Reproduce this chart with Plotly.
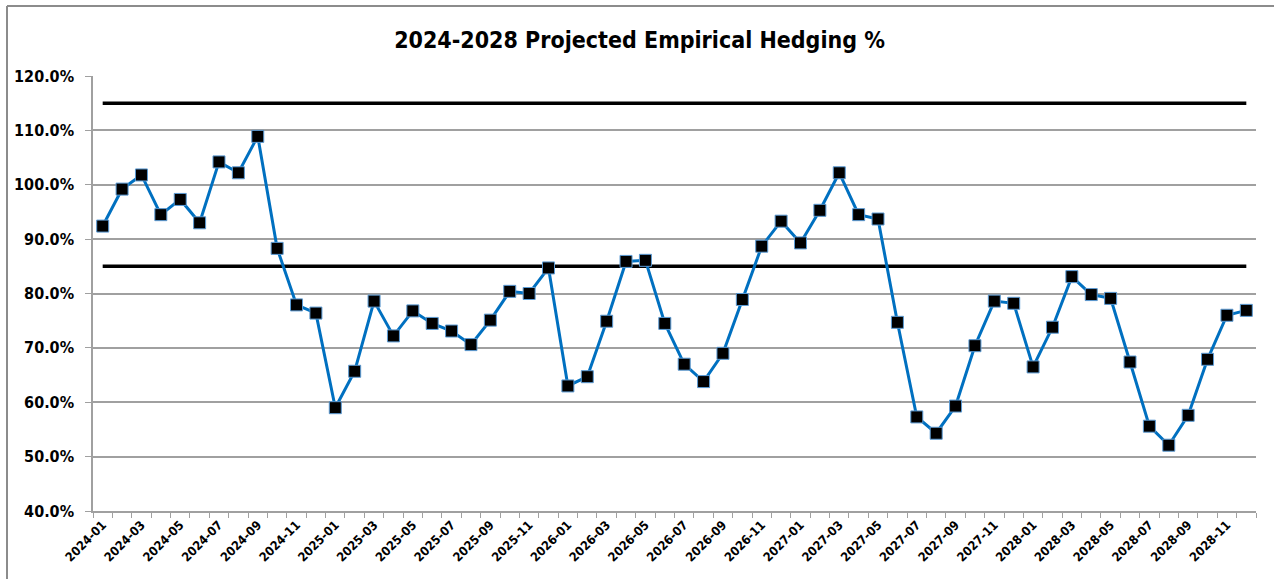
import plotly.graph_objects as go

months = [f"{y}-{m:02d}" for y in range(2024, 2029) for m in range(1, 13)]

hedging = [
    92.4, 99.2, 101.8, 94.5, 97.3, 93.0, 104.2, 102.2, 108.9, 88.3, 77.9, 76.4,
    59.0, 65.7, 78.6, 72.2, 76.8, 74.5, 73.1, 70.6, 75.1, 80.4, 80.0, 84.7,
    63.0, 64.7, 74.9, 85.9, 86.1, 74.5, 67.0, 63.8, 69.0, 78.9, 88.7, 93.3,
    89.3, 95.3, 102.2, 94.5, 93.7, 74.7, 57.3, 54.3, 59.3, 70.4, 78.6, 78.2,
    66.5, 73.8, 83.1, 79.8, 79.1, 67.4, 55.6, 52.1, 57.6, 67.9, 76.0, 76.9,
]
upper_limit = [115.0] * len(months)
lower_limit = [85.0] * len(months)

tick_text = [m if i % 2 == 0 else "" for i, m in enumerate(months)]

FONT = "DejaVu Sans Condensed, Liberation Sans Narrow, Roboto, sans-serif"

fig = go.Figure()
fig.add_trace(go.Scatter(x=months, y=upper_limit, mode="lines",
                         line=dict(color="black", width=3.5), showlegend=False,
                         hoverinfo="skip"))
fig.add_trace(go.Scatter(x=months, y=lower_limit, mode="lines",
                         line=dict(color="black", width=3.5), showlegend=False,
                         hoverinfo="skip"))
fig.add_trace(go.Scatter(x=months, y=hedging, mode="lines+markers",
                         line=dict(color="#0070C0", width=3),
                         marker=dict(symbol="square", size=12, color="black",
                                     line=dict(color="#5B9BD5", width=1)),
                         showlegend=False))

W, H = 1274, 579
L, R, T, B = 93, 18, 76, 68
pw, ph = W - L - R, H - T - B

x_left = (7 - L) / pw
y_top = (H - B - 6) / ph

fig.update_layout(
    width=W, height=H,
    margin=dict(l=L, r=R, t=T, b=B, autoexpand=False),
    paper_bgcolor="white", plot_bgcolor="white",
    font=dict(family=FONT, color="black"),
    title=dict(text="<b>2024-2028 Projected Empirical Hedging %</b>",
               x=0.502, xanchor="center", y=1 - 40 / H, yanchor="middle",
               font=dict(size=23, family=FONT, color="black")),
    xaxis=dict(type="category", categoryorder="array", categoryarray=months,
               range=[-0.5, len(months) - 0.5], automargin=False,
               tickmode="array", tickvals=months, ticktext=tick_text,
               tickson="boundaries", ticks="outside", ticklen=5,
               tickcolor="#A0A0A0", tickangle=-45,
               tickfont=dict(size=12.5, family=FONT, color="black", weight="bold"),
               showline=True, linecolor="#A0A0A0", linewidth=1.5,
               showgrid=False, zeroline=False),
    yaxis=dict(range=[40, 120], dtick=10, tick0=40, automargin=False,
               tickformat=".1f", ticksuffix="%",
               ticks="outside", ticklen=6, tickcolor="#A0A0A0",
               ticklabelstandoff=8,
               tickfont=dict(size=16, family=FONT, color="black", weight="bold"),
               showline=True, linecolor="#A0A0A0", linewidth=1.5,
               showgrid=True, gridcolor="#A0A0A0", gridwidth=1.5,
               zeroline=False),
    shapes=[
        dict(type="line", xref="paper", yref="paper",
             x0=x_left, x1=x_left, y0=-B / ph, y1=y_top,
             line=dict(color="#8C8C8C", width=2), layer="below"),
        dict(type="line", xref="paper", yref="paper",
             x0=x_left, x1=1 + R / pw, y0=y_top, y1=y_top,
             line=dict(color="#8C8C8C", width=2), layer="below"),
    ],
)

fig.write_html(
    "out.html",
    config={"displayModeBar": False},
    post_script="document.body.style.margin='0';document.body.style.overflow='hidden';",
)
